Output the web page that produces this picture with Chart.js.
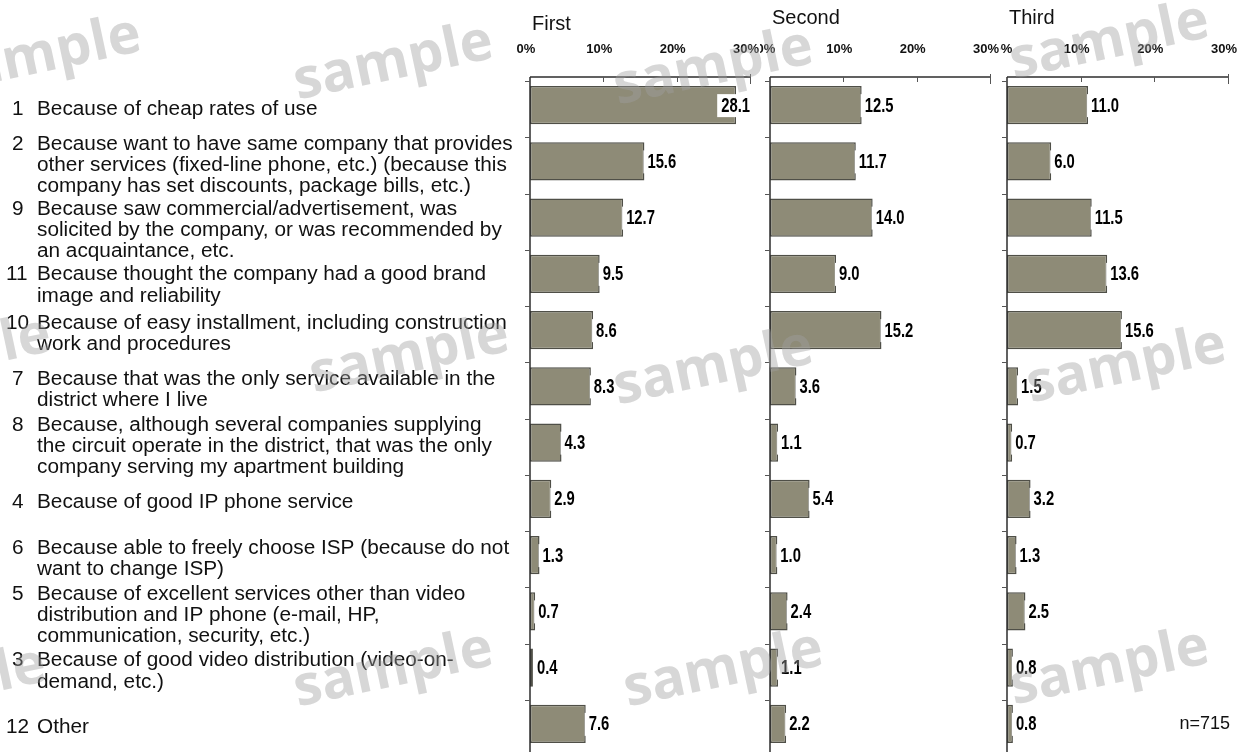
<!DOCTYPE html>
<html lang="en">
<head>
<meta charset="UTF-8">
<title>Reasons for choosing the company</title>
<script src="https://cdn.jsdelivr.net/npm/chart.js"></script>
<style>
  body { margin: 0; background: #fff; }
  #wrap { position: relative; width: 1242px; height: 753px; overflow: hidden; }
  #wrap canvas { position: absolute; top: 0; }
  #marks { position: absolute; left: 0; top: 0; width: 1242px; height: 753px; pointer-events: none; }
  #marks span {
    position: absolute;
    font: bold 56px "Open Sans", "DejaVu Sans", sans-serif;
    color: rgba(160, 160, 160, 0.42);
    transform: translate(-50%, -50%) rotate(-12deg);
    white-space: nowrap;
  }
</style>
</head>
<body>
<div id="wrap">
  <canvas id="first" width="760" height="753" style="left:0px"></canvas>
  <canvas id="second" width="240" height="753" style="left:760px"></canvas>
  <canvas id="third" width="242" height="753" style="left:1000px"></canvas>
  <div id="marks"></div>
</div>

<script>
// data
const codes = ['1', '2', '9', '11', '10', '7', '8', '4', '6', '5', '3', '12'];
const reasons = [
  ['Because of cheap rates of use'],
  ['Because want to have same company that provides', 'other services (fixed-line phone, etc.) (because this', 'company has set discounts, package bills, etc.)'],
  ['Because saw commercial/advertisement, was', 'solicited by the company, or was recommended by', 'an acquaintance, etc.'],
  ['Because thought the company had a good brand', 'image and reliability'],
  ['Because of easy installment, including construction', 'work and procedures'],
  ['Because that was the only service available in the', 'district where I live'],
  ['Because, although several companies supplying', 'the circuit operate in the district, that was the only', 'company serving my apartment building'],
  ['Because of good IP phone service'],
  ['Because able to freely choose ISP (because do not', 'want to change ISP)'],
  ['Because of excellent services other than video', 'distribution and IP phone (e-mail, HP,', 'communication, security, etc.)'],
  ['Because of good video distribution (video-on-', 'demand, etc.)'],
  ['Other']
];
const firstValues  = [28.1, 15.6, 12.7, 9.5, 8.6, 8.3, 4.3, 2.9, 1.3, 0.7, 0.4, 7.6];
const secondValues = [12.5, 11.7, 14.0, 9.0, 15.2, 3.6, 1.1, 5.4, 1.0, 2.4, 1.1, 2.2];
const thirdValues  = [11.0, 6.0, 11.5, 13.6, 15.6, 1.5, 0.7, 3.2, 1.3, 2.5, 0.8, 0.8];
const tickValues = [0, 10, 20, 30];
const tickLabels = ['0%', '10%', '20%', '30%'];
const sampleSize = 'n=715';

const textFont = '19.5px "Liberation Sans", Arial, sans-serif';
const numFont = 'bold 20px "Liberation Sans", Arial, sans-serif';

// text drawn with a horizontal squeeze / stretch
function squeezed(ctx, txt, x, y, sx) {
  ctx.save();
  ctx.translate(x, y);
  ctx.scale(sx, 1);
  ctx.fillText(txt, 0, 0);
  ctx.restore();
}

// draws axes, titles, value boxes and (on the first panel) the category text
const panelPlugin = {
  id: 'panel',
  afterDatasetsDraw(chart, args, opts) {
    const ctx = chart.ctx;
    const a = chart.chartArea;
    const xs = chart.scales.x;
    const ys = chart.scales.y;
    const values = chart.data.datasets[0].data;
    ctx.save();
    ctx.textBaseline = 'middle';
    ctx.textAlign = 'left';

    // value labels
    ctx.font = numFont;
    const sq = 0.74;
    chart.getDatasetMeta(0).data.forEach((bar, i) => {
      const txt = values[i].toFixed(1);
      const w = ctx.measureText(txt).width * sq + 9;
      let bx = Math.max(bar.x - 1, a.left + 3);
      bx = Math.min(bx, a.right + 5 - w);
      ctx.fillStyle = '#fff';
      ctx.fillRect(bx, bar.y - 11, w, 23);
      ctx.fillStyle = '#000';
      squeezed(ctx, txt, bx + 4, bar.y + 1, sq);
    });

    // title
    ctx.fillStyle = '#111';
    ctx.font = '20px "Liberation Sans", Arial, sans-serif';
    ctx.fillText(opts.title, a.left + 2, opts.titleY);

    // top tick labels
    ctx.font = 'bold 13px "Liberation Sans", Arial, sans-serif';
    ctx.textAlign = 'center';
    tickValues.forEach((v, i) => {
      ctx.fillText(tickLabels[i], xs.getPixelForValue(v) - 4, 49);
    });
    ctx.textAlign = 'left';

    // axes
    ctx.strokeStyle = '#2e2e2e';
    ctx.lineWidth = 1.5;
    ctx.beginPath();
    ctx.moveTo(a.left, a.top);
    ctx.lineTo(xs.getPixelForValue(30), a.top);
    ctx.moveTo(a.left, a.top);
    ctx.lineTo(a.left, a.bottom);
    ctx.stroke();
    ctx.lineWidth = 1;
    ctx.strokeStyle = '#555';
    ctx.beginPath();
    [10, 20].forEach(v => {
      const px = Math.round(xs.getPixelForValue(v)) + 0.5;
      ctx.moveTo(px, a.top);
      ctx.lineTo(px, a.top + 5);
    });
    const endX = Math.round(xs.getPixelForValue(30)) + 0.5;
    ctx.moveTo(endX, a.top - 3);
    ctx.lineTo(endX, a.top + 7);
    const band = (a.bottom - a.top) / values.length;
    for (let i = 0; i < values.length; i++) {
      const py = Math.round(ys.getPixelForValue(i) - band / 2 + 4) + 0.5;
      ctx.moveTo(a.left - 5, py);
      ctx.lineTo(a.left, py);
    }
    ctx.stroke();

    // category text: centred on its bar, pushed down if it would touch the block above
    if (opts.categories) {
      ctx.fillStyle = '#111';
      ctx.font = textFont;
      const lh = 21.2;
      let prevLast = -Infinity;
      reasons.forEach((lines, i) => {
        const cy = ys.getPixelForValue(i) + 4;
        let y0 = cy - (lines.length - 1) * lh / 2;
        y0 = Math.max(y0, prevLast + 23);
        squeezed(ctx, codes[i], codes[i].length > 1 ? 6 : 12, y0, 1.065);
        lines.forEach((ln, j) => squeezed(ctx, ln, 37, y0 + j * lh, 1.065));
        prevLast = y0 + (lines.length - 1) * lh;
      });
    }

    // sample size
    if (opts.note) {
      ctx.fillStyle = '#111';
      ctx.font = '18px "Liberation Sans", Arial, sans-serif';
      ctx.textAlign = 'right';
      ctx.fillText(opts.note, a.right + 2, ys.getPixelForValue(values.length - 1));
    }
    ctx.restore();
  }
};

function makePanel(id, values, padLeft, padRight, panelOpts) {
  return new Chart(document.getElementById(id), {
    type: 'bar',
    data: {
      labels: codes,
      datasets: [{
        data: values,
        backgroundColor: '#8e8b77',
        borderColor: '#4f4f47',
        borderWidth: 1.5,
        borderSkipped: false,
        barPercentage: 0.68,
        categoryPercentage: 1
      }]
    },
    options: {
      indexAxis: 'y',
      responsive: false,
      maintainAspectRatio: false,
      animation: false,
      devicePixelRatio: 1,
      layout: { padding: { left: padLeft, right: padRight, top: 77, bottom: 1 } },
      scales: {
        x: { type: 'linear', min: 0, max: 30, display: false },
        y: { type: 'category', offset: true, display: false }
      },
      plugins: {
        legend: { display: false },
        tooltip: { enabled: false },
        panel: panelOpts
      }
    },
    plugins: [panelPlugin]
  });
}

makePanel('first', firstValues, 530, 10, { title: 'First', titleY: 24, categories: true });
makePanel('second', secondValues, 10, 10, { title: 'Second', titleY: 18 });
makePanel('third', thirdValues, 7, 14, { title: 'Third', titleY: 18, note: sampleSize });

// watermark overlay
const markSpots = [
  [40, 50], [392, 57], [712, 62], [1108, 36],
  [-50, 350], [408, 350], [712, 362], [1125, 360],
  [-55, 680], [392, 664], [722, 664], [1108, 662]
];
const marks = document.getElementById('marks');
markSpots.forEach(p => {
  const s = document.createElement('span');
  s.textContent = 'sample';
  s.style.left = p[0] + 'px';
  s.style.top = p[1] + 'px';
  marks.appendChild(s);
});
</script>
</body>
</html>
